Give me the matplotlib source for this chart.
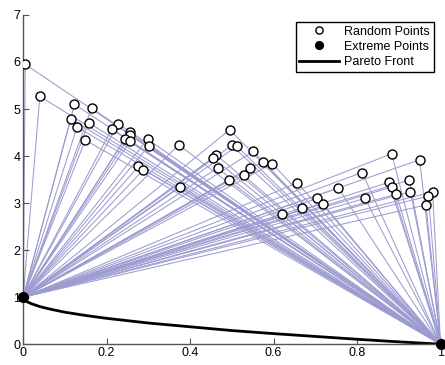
import matplotlib
matplotlib.use("Agg")
import matplotlib.pyplot as plt

plt.rcParams['font.family'] = ['Liberation Sans', 'DejaVu Sans']

# Random solutions in objective space
rand_x = [0.005, 0.040, 0.123, 0.164, 0.114, 0.157, 0.129, 0.149, 0.228, 0.212,
          0.255, 0.257, 0.244, 0.256, 0.298, 0.301, 0.373, 0.276, 0.288, 0.376,
          0.495, 0.500, 0.512, 0.551, 0.463, 0.455, 0.574, 0.597, 0.466, 0.543,
          0.528, 0.492, 0.657, 0.619, 0.669, 0.883, 0.950, 0.812, 0.755, 0.876,
          0.925, 0.883, 0.894, 0.928, 0.981, 0.971, 0.965, 0.705, 0.718, 0.819]
rand_y = [5.95, 5.27, 5.10, 5.02, 4.79, 4.71, 4.62, 4.34, 4.69, 4.57,
          4.51, 4.44, 4.37, 4.31, 4.36, 4.22, 4.24, 3.78, 3.71, 3.34,
          4.56, 4.23, 4.21, 4.10, 4.02, 3.96, 3.88, 3.84, 3.75, 3.75,
          3.59, 3.49, 3.43, 2.76, 2.90, 4.05, 3.92, 3.65, 3.32, 3.44,
          3.49, 3.34, 3.19, 3.24, 3.24, 3.15, 2.96, 3.10, 2.99, 3.10]

# Extreme points
ext_x = [0.0, 1.0]
ext_y = [1.0, 0.0]

# Pareto front
front_x = [0.0, 0.005, 0.01, 0.02, 0.04, 0.06, 0.1, 0.15, 0.2, 0.3,
           0.4, 0.5, 0.6, 0.7, 0.8, 0.9, 1.0]
front_y = [1.0, 0.93, 0.90, 0.86, 0.80, 0.755, 0.68, 0.61, 0.55, 0.45,
           0.37, 0.29, 0.225, 0.165, 0.105, 0.05, 0.0]

fig = plt.figure(figsize=(4.45, 3.65), dpi=100)
ax = fig.add_axes([0.052, 0.057, 0.938, 0.902])

line_color = '#9c9cd0'
for x, y in zip(rand_x, rand_y):
    for ex, ey in zip(ext_x, ext_y):
        ax.plot([x, ex], [y, ey], color=line_color, lw=0.75, zorder=1)

ax.plot(front_x, front_y, color='black', lw=2, zorder=2, label='Pareto Front')
ax.plot(rand_x, rand_y, 'o', ms=6.5, mfc='white', mec='black', mew=1,
        zorder=3, label='Random Points')
ax.plot(ext_x, ext_y, 'o', ms=7, color='black', zorder=4, clip_on=False,
        label='Extreme Points')

ax.set_xlim(0, 1)
ax.set_ylim(0, 7)
ax.set_xticks([0, 0.2, 0.4, 0.6, 0.8, 1])
ax.set_xticklabels(['0', '0.2', '0.4', '0.6', '0.8', '1'])
ax.set_yticks(range(8))

for s in ['top', 'right']:
    ax.spines[s].set_visible(False)
for s in ['left', 'bottom']:
    ax.spines[s].set_color('#555555')
    ax.spines[s].set_linewidth(1)
ax.tick_params(direction='in', length=4, width=0.8, color='#555555',
               labelsize=9, pad=2)

handles, labels = ax.get_legend_handles_labels()
order = [1, 2, 0]
leg = ax.legend([handles[i] for i in order], [labels[i] for i in order],
                loc='upper right', bbox_to_anchor=(0.984, 0.979), fontsize=9,
                fancybox=False, framealpha=1, edgecolor='black',
                borderpad=0.3, labelspacing=0.25, handlelength=3.2,
                handletextpad=0.4, borderaxespad=0, markerscale=0.8)
leg.get_frame().set_linewidth(1)

fig.savefig('out.png', dpi=100)
